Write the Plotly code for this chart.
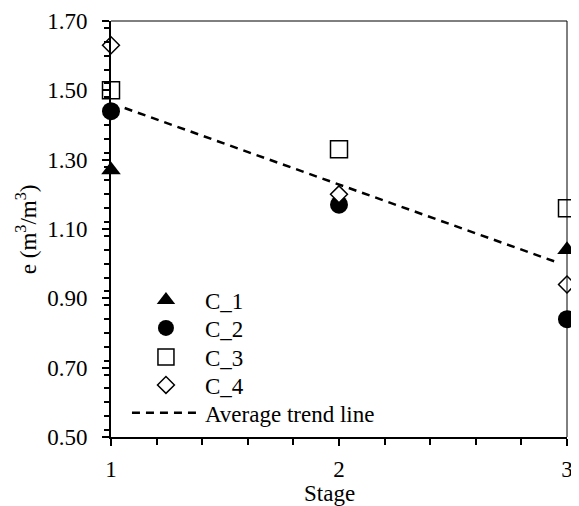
import plotly.graph_objects as go

stages = [1, 2, 3]
c1 = [1.27, None, 1.04]
c2 = [1.44, 1.17, 0.84]
c3 = [1.50, 1.33, 1.16]
c4 = [1.63, 1.20, 0.94]
trend_x = [1.06, 2.96]
trend_y = [1.449, 1.003]

FONT = "Liberation Serif, Times New Roman, serif"
FS = 23

fig = go.Figure()
fig.add_trace(go.Scatter(x=stages, y=c1, mode="markers", name="C_1", legend="legend",
                         marker=dict(symbol="triangle-up", size=17, color="black"), cliponaxis=False))
fig.add_trace(go.Scatter(x=stages, y=c2, mode="markers", name="C_2", legend="legend2",
                         marker=dict(symbol="circle", size=18, color="black"), cliponaxis=False))
fig.add_trace(go.Scatter(x=stages, y=c3, mode="markers", name="C_3", legend="legend3",
                         marker=dict(symbol="square", size=17, color="white",
                                     line=dict(color="black", width=1.5)), cliponaxis=False))
fig.add_trace(go.Scatter(x=stages, y=c4, mode="markers", name="C_4", legend="legend4",
                         marker=dict(symbol="diamond", size=13, color="white",
                                     line=dict(color="black", width=1.5)), cliponaxis=False))
fig.add_trace(go.Scatter(x=trend_x, y=trend_y, mode="lines", name="Average trend line",
                         legend="legend5",
                         line=dict(color="black", width=2.5, dash="8px,6px")))


def leg(y):
    return dict(x=0.035, y=y, xanchor="left", yanchor="middle", itemwidth=68,
                bgcolor="rgba(0,0,0,0)", borderwidth=0,
                font=dict(family=FONT, size=FS, color="black"))


fig.update_layout(
    width=571, height=498,
    margin=dict(l=103, r=12, t=13, b=69, autoexpand=False),
    paper_bgcolor="white", plot_bgcolor="white",
    font=dict(family=FONT, size=FS, color="black"),
    showlegend=True,
    legend=leg(0.329), legend2=leg(0.262), legend3=leg(0.192),
    legend4=leg(0.125), legend5=leg(0.058),
    shapes=[
        dict(type="line", xref="paper", yref="paper", x0=0, x1=1, y0=1, y1=1,
             line=dict(color="black", width=1)),
        dict(type="line", xref="paper", yref="paper", x0=1, x1=1, y0=0, y1=1,
             line=dict(color="black", width=1)),
    ],
    annotations=[
        dict(text="Stage", xref="paper", yref="paper", x=0.48, y=-0.137,
             xanchor="center", yanchor="middle", showarrow=False,
             font=dict(family=FONT, size=FS, color="black")),
        dict(text="e (m<sup>3</sup>/m<sup>3</sup>)", xref="paper", yref="paper",
             x=-0.186, y=0.5, textangle=-90, xanchor="center", yanchor="middle",
             showarrow=False, font=dict(family=FONT, size=FS, color="black")),
    ],
)
fig.update_xaxes(range=[1, 3], dtick=1, tick0=1, showgrid=False, zeroline=False,
                 automargin=False,
                 showline=True, linecolor="black", linewidth=2,
                 ticks="outside", ticklen=7, tickwidth=1.5, tickcolor="black",
                 ticklabelstandoff=3,
                 minor=dict(dtick=0.2, ticks="outside", ticklen=6, tickwidth=1.5,
                            tickcolor="black", showgrid=False),
                 tickfont=dict(family=FONT, size=FS, color="black"))
fig.update_yaxes(range=[0.5, 1.7], dtick=0.2, tick0=0.5, tickformat=".2f", showgrid=False,
                 zeroline=False, automargin=False, showline=True, linecolor="black", linewidth=2,
                 ticks="outside", ticklen=7, tickwidth=1.5, tickcolor="black",
                 ticklabelstandoff=10,
                 minor=dict(dtick=0.04, ticks="outside", ticklen=5, tickwidth=1.5,
                            tickcolor="black", showgrid=False),
                 tickfont=dict(family=FONT, size=FS, color="black"))

fig.write_html("out.html")
